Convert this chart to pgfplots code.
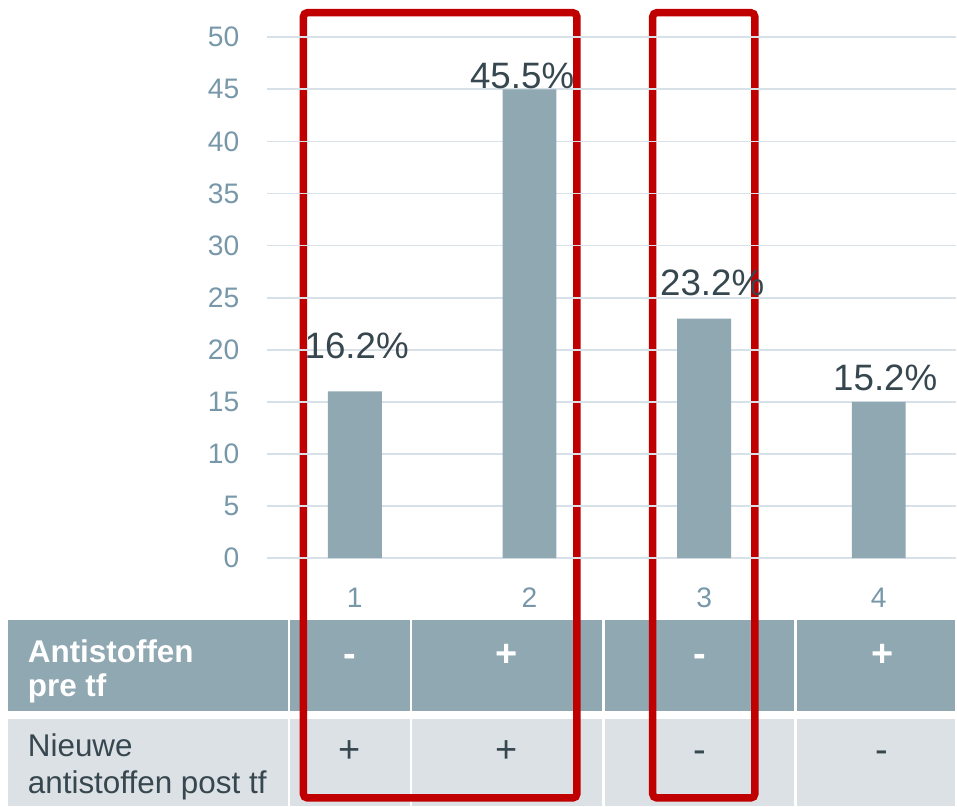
\documentclass[border=0pt]{standalone}
\usepackage{pgfplots}
\pgfplotsset{compat=1.18}
\usepackage{fontspec}
\setmainfont{Liberation Sans}
\definecolor{barc}{RGB}{143,168,178}
\definecolor{rowtwo}{RGB}{220,225,229}
\definecolor{gridc}{RGB}{216,225,231}
\definecolor{tickc}{RGB}{120,152,170}
\definecolor{textc}{RGB}{55,71,79}
\definecolor{redc}{RGB}{192,0,0}
\begin{document}
\begin{tikzpicture}
\begin{scope}[x=0.75pt,y=-0.75pt]
\useasboundingbox (0,0) rectangle (957,808);
% table row 1
\fill[barc] (8.3,621.7) rectangle (288.3,712.7);
\fill[barc] (291,621.7) rectangle (411,712.7);
\fill[barc] (413.3,621.7) rectangle (603.3,712.7);
\fill[barc] (606,621.7) rectangle (795.7,712.7);
\fill[barc] (798.3,621.7) rectangle (957,712.7);
% table row 2
\fill[rowtwo] (8.3,720.7) rectangle (288.3,808);
\fill[rowtwo] (291,720.7) rectangle (411,808);
\fill[rowtwo] (413.3,720.7) rectangle (603.3,808);
\fill[rowtwo] (606,720.7) rectangle (795.7,808);
\fill[rowtwo] (798.3,720.7) rectangle (957,808);
\begin{scope}[every node/.style={inner sep=0pt}]
\node[anchor=base west, text=white, font=\fontsize{23.6}{27}\selectfont\bfseries] at (27.7,663.3) {Antistoffen};
\node[anchor=base west, text=white, font=\fontsize{23.6}{27}\selectfont\bfseries] at (27.7,698.3) {pre tf};
\node[anchor=base west, text=textc, font=\fontsize{23.6}{27}\selectfont] at (27.7,758.3) {Nieuwe};
\node[anchor=base west, text=textc, font=\fontsize{23.6}{27}\selectfont] at (27.7,795) {antistoffen post tf};
\foreach \xx/\ss in {350/-,508/+,700.7/-,884/+}{
  \node[anchor=base, text=white, font=\fontsize{28.5}{32}\selectfont\bfseries] at (\xx,667.5) {\ss};
}
\foreach \xx/\ss in {350/+,508/+,700.7/-,884/-}{
  \node[anchor=base, text=textc, font=\fontsize{28.5}{32}\selectfont] at (\xx,763.5) {\ss};
}
\end{scope}
% red rectangles
\draw[redc, line width=5.6pt, rounded corners=3pt] (304,12.7) rectangle (578,799.5);
\draw[redc, line width=5.6pt, rounded corners=3pt] (654,12.7) rectangle (756.3,799.5);
\end{scope}
\begin{axis}[
  at={(201pt,-419.475pt)}, anchor=south west,
  x=131.25pt, y=7.83pt,
  xmin=0.5, xmax=4.443, ymin=0, ymax=50,
  axis line style={draw=none},
  ymajorgrids, grid style={draw=gridc, line width=1.3pt},
  ytick={0,5,...,50}, xtick={1,2,3,4},
  major tick length=0pt,
  tick label style={font=\fontsize{21.2}{25}\selectfont, text=tickc},
  yticklabel style={anchor=east, inner sep=0pt, xshift=-21pt},
  xticklabel style={anchor=base, inner sep=0pt, yshift=-36.75pt},
  /pgf/number format/assume math mode=true,
  clip=false,
]
\addplot[ybar, bar width=40.5pt, fill=barc, draw=none] coordinates {(1,16) (2,45) (3,23) (4,15)};
\begin{scope}[every node/.style={anchor=base, inner sep=0pt, text=textc, font=\fontsize{27.6}{32}\selectfont}]
\node at (axis cs:1.011,19.2) {16.2\%};
\node at (axis cs:1.958,45.05) {45.5\%};
\node at (axis cs:3.046,25.2) {23.2\%};
\node at (axis cs:4.037,16.05) {15.2\%};
\end{scope}
\end{axis}
\end{tikzpicture}
\end{document}
